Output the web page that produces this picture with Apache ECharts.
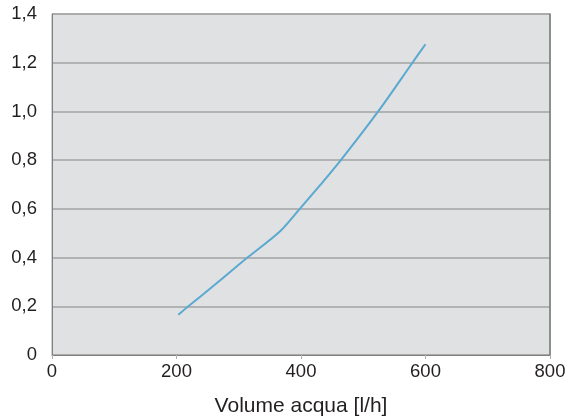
<!DOCTYPE html>
<html><head><meta charset="utf-8">
<script src="https://cdn.jsdelivr.net/npm/echarts@6/dist/echarts.min.js"></script>
<style>html,body{margin:0;padding:0;background:#fff}#c{width:572px;height:417px}</style>
</head><body><div id="c"></div>
<script>
const flowValues = [203, 219, 260, 314, 366, 398, 430, 464, 524, 579, 600];
const pressureValues = [0.165, 0.2, 0.285, 0.4, 0.507, 0.6, 0.695, 0.8, 1.0, 1.2, 1.276];
const xTitle = 'Volume acqua [l/h]';

const data = flowValues.map((x, i) => [x, pressureValues[i]]);
const chart = echarts.init(document.getElementById('c'), null, {renderer: 'canvas'});
const font = '"Liberation Sans", Arial, sans-serif';
chart.setOption({
  animation: false,
  grid: {left: 52, right: 22, top: 14, bottom: 62, show: true, outerBoundsMode: 'none', containLabel: false,
    backgroundColor: '#e0e1e3', borderColor: '#a2a2a2', borderWidth: 1},
  xAxis: {
    type: 'value', min: 0, max: 800, interval: 200,
    name: xTitle, nameLocation: 'middle', nameGap: 41,
    nameTextStyle: {fontFamily: font, fontSize: 21, color: '#231f20'},
    axisLine: {show: true, lineStyle: {color: '#808080', width: 1}},
    axisTick: {show: true, length: 4, lineStyle: {color: '#b0b0b0'}},
    axisLabel: {fontFamily: font, fontSize: 18.5, color: '#231f20', margin: 7},
    splitLine: {show: false}
  },
  yAxis: [{
    type: 'value', min: 0, max: 1.4, interval: 0.2,
    axisLine: {show: true, lineStyle: {color: '#808080', width: 1}},
    axisTick: {show: false},
    axisLabel: {fontFamily: font, fontSize: 18.5, color: '#231f20', margin: 15,
      formatter: v => v === 0 ? '0' : v.toFixed(1).replace('.', ',')},
    splitLine: {show: true, lineStyle: {color: '#a2a2a2', width: 1.5}}
  }, {
    type: 'value', min: 0, max: 1.4, interval: 0.2, position: 'right',
    axisLine: {show: true, lineStyle: {color: '#7a7a7a', width: 1.5}},
    axisTick: {show: false}, axisLabel: {show: false}, splitLine: {show: false}
  }],
  series: [{
    type: 'line', data: data, smooth: 0.3, showSymbol: false,
    lineStyle: {color: '#5aa9d0', width: 2}
  }]
});
</script></body></html>
